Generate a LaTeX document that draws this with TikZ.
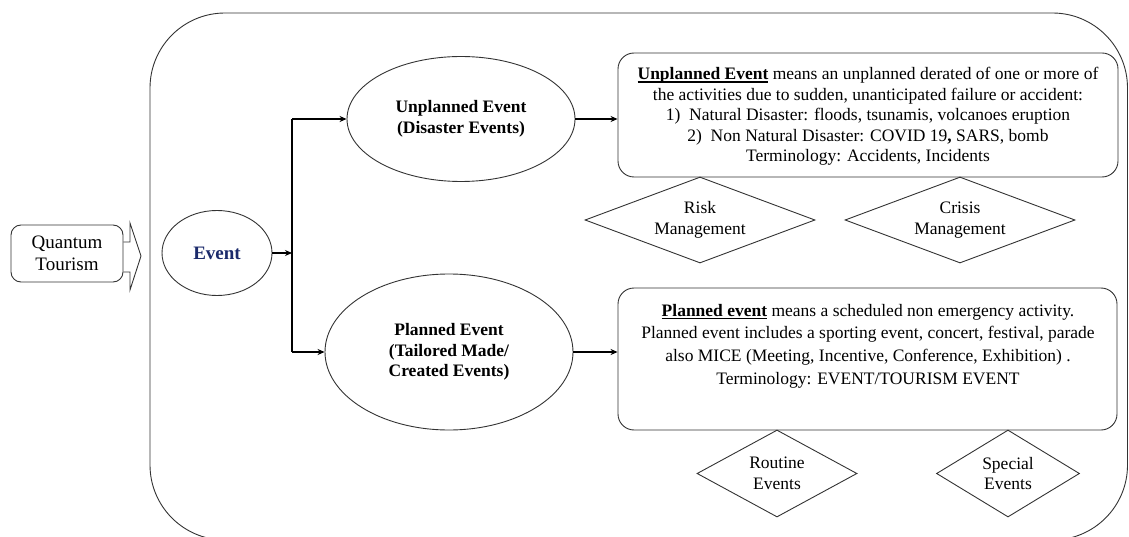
\documentclass[tikz,border=0pt]{standalone}
\usepackage{fontspec}
\setmainfont{Liberation Serif}
\usetikzlibrary{shapes.geometric,arrows.meta}
\definecolor{navy}{HTML}{1B2A6B}
\definecolor{edge}{HTML}{333333}
\newcommand\myul[1]{\setbox0\hbox{#1}\rlap{\rule[-3pt]{\wd0}{1.6pt}}\box0\relax}
\tikzset{
  txt/.style={font=\fontsize{17.5}{20.5}\selectfont, align=center},
  oval/.style={ellipse, draw=edge, line width=0.9pt, inner sep=0pt, txt, font=\fontsize{17.5}{20.5}\selectfont\bfseries},
  rbox/.style={draw=edge, line width=0.9pt, rounded corners=16pt, inner sep=0pt},
  dia/.style={diamond, draw=edge, line width=0.9pt, inner sep=0pt, txt},
  conn/.style={line width=1.7pt, -{Stealth[length=7pt,width=6pt]}},
}
\begin{document}
\begin{tikzpicture}[x=1pt,y=-1pt]
\useasboundingbox (0,0) rectangle (1129,537);
% container
\draw[draw=edge, line width=0.9pt, rounded corners=75pt] (150,13) rectangle (1127.5,540);
% Quantum Tourism
\node[rbox, rounded corners=10pt, minimum width=112pt, minimum height=57pt, txt, font=\fontsize{19}{22}\selectfont] (qt) at (67,253.5) {Quantum\\Tourism};
\coordinate (s1) at (130,242);
\coordinate (s2) at (130,272);
\coordinate (h1) at (130,223);
\coordinate (h2) at (130,290);
\coordinate (tip) at (141,256);
\draw[draw=edge, line width=0.9pt] (qt.east |- s1) -- (s1) -- (h1) -- (tip) -- (h2) -- (s2) -- (qt.east |- s2);
% Event
\node[oval, minimum width=110pt, minimum height=85pt, text=navy, font=\fontsize{19}{22}\selectfont\bfseries] (ev) at (217,253) {Event};
% Unplanned / Planned ellipses
\node[oval, minimum width=228pt, minimum height=125pt] (un) at (461,119) {Unplanned Event\\(Disaster Events)};
\node[oval, minimum width=248pt, minimum height=156pt] (pl) at (449,352) {Planned Event\\(Tailored Made/\\Created Events)};
% junction
\coordinate (jt) at (292,119);
\coordinate (jm) at (292,253);
\coordinate (jb) at (292,352);
\draw[line width=1.7pt] (jt) -- (jb);
\draw[conn] (ev.east) -- (jm);
\draw[conn] (jt) -- (un.west);
\draw[conn] (jb) -- (pl.west);
% Unplanned box
\node[rbox, minimum width=500pt, minimum height=124pt] (ub) at (868,115) {};
\node[txt] (ubt) at (868,116.5) {\myul{\textbf{Unplanned Event}} means an unplanned derated of one or more of\\the activities due to sudden, unanticipated failure or accident:\\1)~~Natural Disaster: floods, tsunamis, volcanoes eruption\\2)~~Non Natural Disaster: COVID 19\textbf{,} SARS, bomb\\Terminology: Accidents, Incidents};
\draw[conn] (un.east) -- (ub.west |- un.east);
% Planned box
\node[rbox, minimum width=499pt, minimum height=142pt] (pb) at (867.5,359) {};
\node[txt, font=\fontsize{17.5}{22.7}\selectfont] (pbt) at (868,346) {\myul{\textbf{Planned event}} means a scheduled non emergency activity.\\Planned event includes a sporting event, concert, festival, parade\\also MICE (Meeting, Incentive, Conference, Exhibition) .\\Terminology: EVENT/TOURISM EVENT};
\draw[conn] (pl.east) -- (pb.west |- pl.east);
% Diamonds
\node[dia, aspect=2.67, minimum width=230pt, minimum height=86pt] (risk) at (700,220) {Risk\\Management};
\node[dia, aspect=2.67, minimum width=230pt, minimum height=86pt] (crisis) at (960,220) {Crisis\\Management};
\node[dia, aspect=1.84, minimum width=160pt, minimum height=87pt] (rout) at (777,473.5) {Routine\\Events};
\node[dia, aspect=1.64, minimum width=143pt, minimum height=87pt] (spec) at (1008,473.5) {Special\\Events};
\end{tikzpicture}
\end{document}
